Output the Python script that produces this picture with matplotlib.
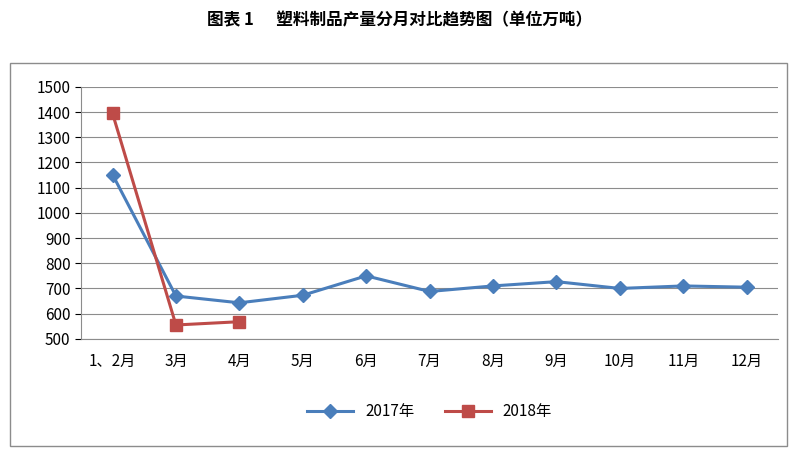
import matplotlib.pyplot as plt
from matplotlib.patches import Rectangle

plt.rcParams['font.family'] = 'sans-serif'
plt.rcParams['font.sans-serif'] = ['Noto Sans CJK SC', 'Noto Sans CJK JP', 'Noto Sans CJK TC',
                                   'Noto Sans CJK KR', 'DejaVu Sans']

months = ['1、2月', '3月', '4月', '5月', '6月', '7月', '8月', '9月', '10月', '11月', '12月']
y2017 = [1152, 670, 643, 673, 750, 688, 710, 727, 700, 710, 705]
y2018 = [1395, 555, 568]
yticks = list(range(500, 1501, 100))

fig = plt.figure(figsize=(8, 4.5), dpi=100)
fig.patch.set_facecolor('white')
fig.text(0.5, 0.955, '图表 1      塑料制品产量分月对比趋势图（单位万吨）',
         ha='center', va='center', fontsize=12, fontweight='bold')
fig.patches.append(Rectangle((0.012, 0.01), 0.972, 0.85, transform=fig.transFigure,
                             fill=False, edgecolor='#8c8c8c', lw=1))

ax = fig.add_axes([0.101, 0.247, 0.872, 0.56])
x = list(range(len(months)))
ax.plot(x, y2017, color='#4a7ebb', lw=2.2, marker='D', ms=7, label='2017年')
ax.plot(x[:len(y2018)], y2018, color='#be4b48', lw=2.2, marker='s', ms=9, label='2018年')
ax.set_xlim(-0.5, len(months) - 0.5)
ax.set_ylim(500, 1500)
ax.set_yticks(yticks)
ax.set_xticks(x)
ax.set_xticklabels(months, fontsize=11)
ax.tick_params(axis='y', labelsize=11, length=4)
ax.tick_params(axis='x', length=0, pad=10)
ax.grid(axis='y', color='#8c8c8c', lw=0.8)
ax.set_axisbelow(True)
for s in ['top', 'right']:
    ax.spines[s].set_visible(False)
for s in ['left', 'bottom']:
    ax.spines[s].set_color('#8c8c8c')
ax.legend(loc='upper center', bbox_to_anchor=(0.5, -0.2), ncol=2, frameon=False,
          fontsize=11, handlelength=3, columnspacing=2)

fig.savefig('out.png', dpi=100)
